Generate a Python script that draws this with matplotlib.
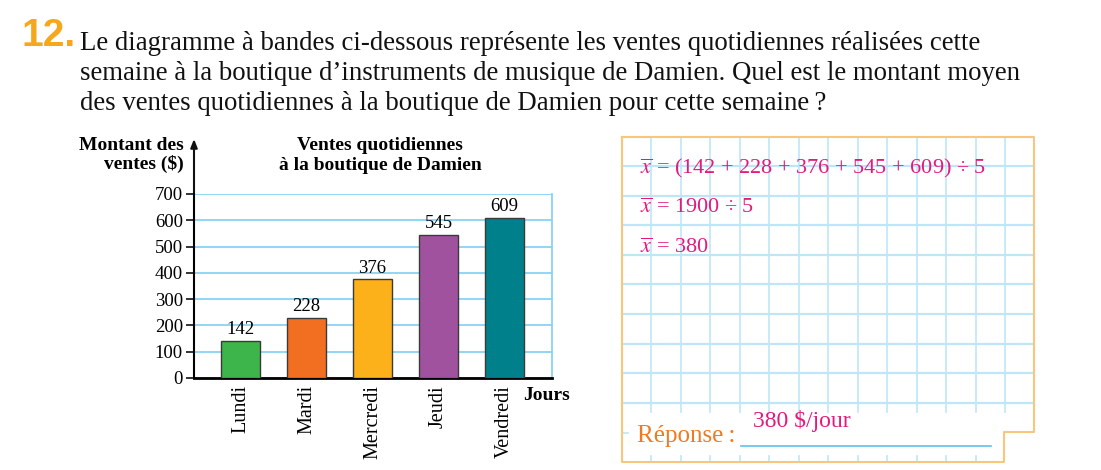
import matplotlib
matplotlib.use("Agg")
import matplotlib.pyplot as plt
from matplotlib.patches import Rectangle
import numpy as np

plt.rcParams["mathtext.fontset"] = "stix"

# ---- data ----
days = ["Lundi", "Mardi", "Mercredi", "Jeudi", "Vendredi"]
sales = [142, 228, 376, 545, 609]
bar_colors = ["#3db54a", "#f26f21", "#fcb01a", "#a0529f", "#00808a"]
yticks = [0, 100, 200, 300, 400, 500, 600, 700]
calc_lines = [r"$\overline{x}$ = (142 + 228 + 376 + 545 + 609) ÷ 5",
              r"$\overline{x}$ = 1900 ÷ 5",
              r"$\overline{x}$ = 380"]
answer = "380 $/jour"

SERIF = ["Liberation Serif", "DejaVu Serif"]
W, H = 1101, 470
fig = plt.figure(figsize=(W / 100, H / 100), dpi=100)
fig.patch.set_facecolor("white")

# background / overlay axes in pixel coordinates
bg = fig.add_axes([0, 0, 1, 1])
bg.set_xlim(0, W)
bg.set_ylim(H, 0)
bg.axis("off")

PINK = "#e5197d"
ORANGE = "#f07a21"
GRIDBLUE = "#bfe6f7"

# ---- question ----
bg.text(21, 36, "12.", fontsize=28, fontweight="bold", color="#f6a81c",
        family=["Liberation Sans Narrow", "Liberation Sans", "DejaVu Sans"], va="center", ha="left")
qlines = ["Le diagramme à bandes ci-dessous représente les ventes quotidiennes réalisées cette",
          "semaine à la boutique d\u2019instruments de musique de Damien. Quel est le montant moyen",
          "des ventes quotidiennes à la boutique de Damien pour cette semaine\u2009?"]
for i, l in enumerate(qlines):
    bg.text(80, 50 + 30 * i, l, fontsize=19.3, family=SERIF, color="#111111",
            va="baseline", ha="left")

# ---- right panel (grid paper) ----
px0, px1, py0, py1 = 622, 1034, 137, 462
bg.add_patch(Rectangle((px0, py0), px1 - px0, py1 - py0, facecolor="white",
                       edgecolor="none", zorder=0))
for k in range(13):
    xg = 651 + 29.5 * k
    bg.plot([xg, xg], [py0, 403], color=GRIDBLUE, lw=1.2, zorder=1)
    bg.plot([xg, xg], [403, 412], color=GRIDBLUE, lw=1.2, zorder=1)
    if xg < 1004:
        bg.plot([xg, xg], [456, py1], color=GRIDBLUE, lw=1.2, zorder=1)
for k in range(9):
    yg = 166 + 29.6 * k
    bg.plot([px0, px1], [yg, yg], color=GRIDBLUE, lw=1.6, zorder=1)
bg.plot([px0, px0 + 6], [433, 433], color=GRIDBLUE, lw=1.2, zorder=1)
# border with notch
bx = [px0, px1, px1, 1004, 1004, px0, px0]
by = [py0, py0, 432, 432, py1, py1, py0]
bg.plot(bx, by, color="#f9c67b", lw=1.5, zorder=2)
for i, l in enumerate(calc_lines):
    bg.text(640, 168 + 40 * i, l, fontsize=16, family=SERIF, color=PINK,
            va="center", ha="left", zorder=3)
bg.text(637, 436, "Réponse\u2009:", fontsize=18, family=SERIF, color=ORANGE,
        va="center", ha="left", zorder=3)
bg.text(753, 421, answer.replace("$", r"\$"), fontsize=17, family=SERIF, color=PINK,
        va="center", ha="left", zorder=3)
bg.plot([741, 991], [446, 446], color="#5bc4ef", lw=1.2, zorder=3)

# ---- bar chart ----
left, right, top, bottom = 194, 552, 194, 378
ax = fig.add_axes([left / W, 1 - bottom / H, (right - left) / W, (bottom - top) / H])
ax.set_facecolor("none")
x = np.arange(len(days))
ax.bar(x, sales, width=0.6, color=bar_colors, edgecolor="#3a3a3a", linewidth=1.0, zorder=3)
ax.set_xlim(-0.705, 4.72)
ax.set_ylim(0, 700)
ax.set_yticks(yticks)
ax.set_yticklabels([str(t) for t in yticks], fontsize=13.5, family=SERIF)
ax.grid(axis="y", color="#7fd0f2", lw=1.2, zorder=1)
ax.set_xticks(x)
ax.set_xticklabels(days, rotation=90, fontsize=14.5, family=SERIF)
ax.tick_params(axis="x", length=0, pad=5)
ax.tick_params(axis="y", length=6, width=1.2, pad=2, color="#111111")
ax.spines["top"].set_visible(False)
ax.spines["right"].set_color("#7fd0f2")
ax.spines["right"].set_linewidth(1.2)
ax.spines["bottom"].set_linewidth(2.0)
ax.spines["left"].set_linewidth(1.5)
for xi, v in zip(x, sales):
    ax.text(xi, v + 10, str(v), ha="center", va="bottom", fontsize=13.5,
            family=SERIF, zorder=4)

# y axis arrow extending above plot
bg.annotate("", xy=(left, 139), xytext=(left, top),
            arrowprops=dict(arrowstyle="-|>,head_length=0.5,head_width=0.2",
                            color="#111111", lw=1.5, shrinkA=0, shrinkB=0))
bg.text(184, 145, "Montant des", fontsize=14, fontweight="bold",
        family=SERIF, ha="right", va="center")
bg.text(184, 164, "ventes ($)", fontsize=14, fontweight="bold",
        family=SERIF, ha="right", va="center")
bg.text(380, 145, "Ventes quotidiennes", fontsize=14,
        fontweight="bold", family=SERIF, ha="center", va="center")
bg.text(380, 165, "à la boutique de Damien", fontsize=14,
        fontweight="bold", family=SERIF, ha="center", va="center")
bg.text(523, 396, "Jours", fontsize=14, fontweight="bold", family=SERIF,
        ha="left", va="center")

fig.savefig("out.png", dpi=100, facecolor="white")
